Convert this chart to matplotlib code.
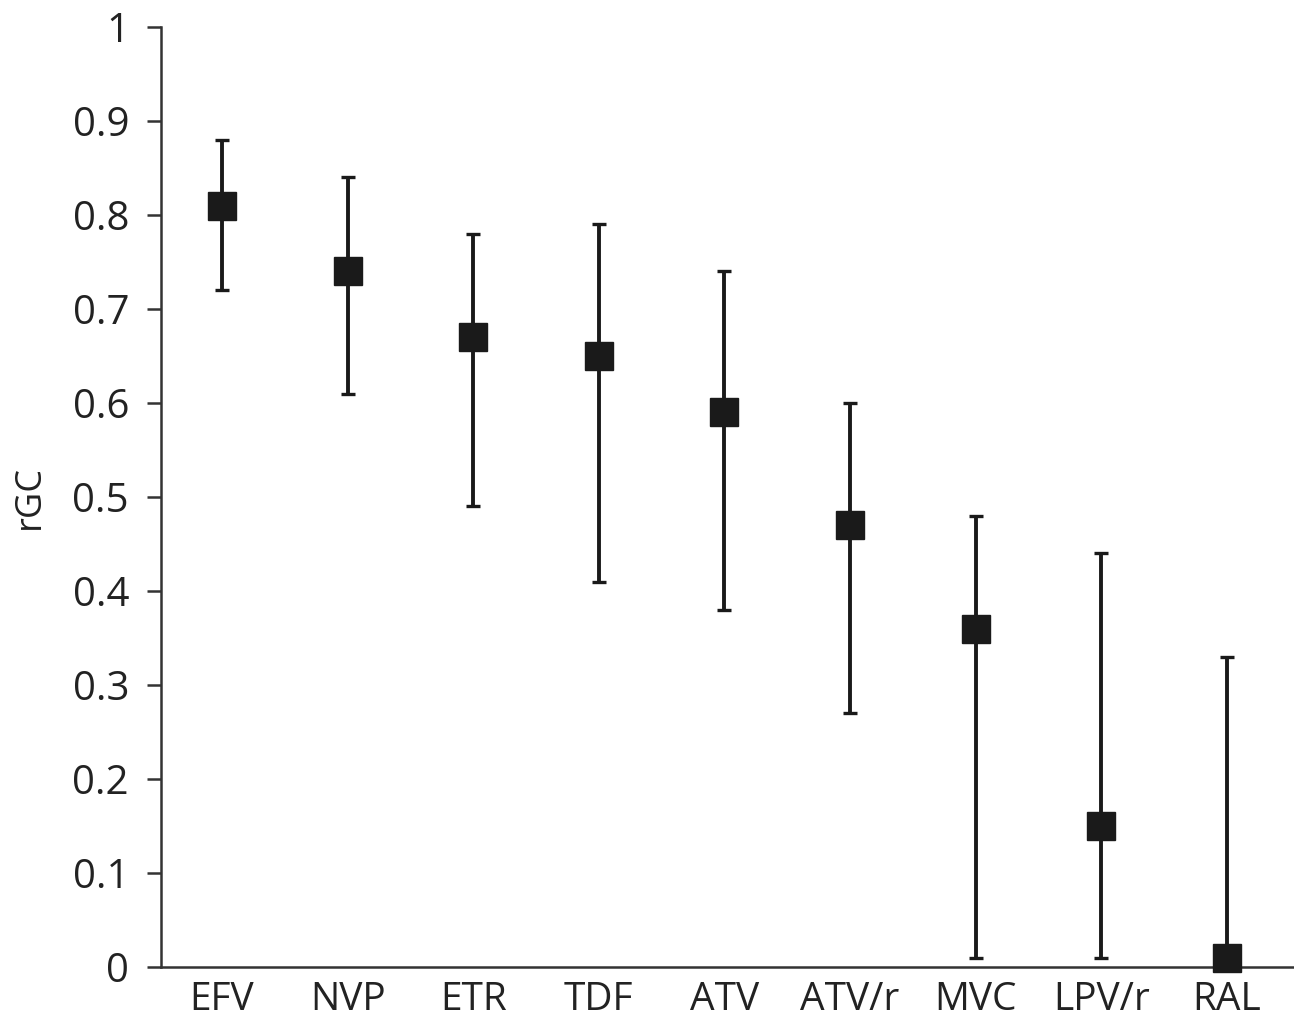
import matplotlib
matplotlib.use('Agg')
import matplotlib.pyplot as plt

# farmacos y valores de rGC
farmacos = ['EFV', 'NVP', 'ETR', 'TDF', 'ATV', 'ATV/r', 'MVC', 'LPV/r', 'RAL']
rgc = [0.81, 0.74, 0.67, 0.65, 0.59, 0.47, 0.36, 0.15, 0.01]
ic_inf = [0.72, 0.61, 0.49, 0.41, 0.38, 0.27, 0.01, 0.01, 0.0]
ic_sup = [0.88, 0.84, 0.78, 0.79, 0.74, 0.60, 0.48, 0.44, 0.33]

plt.rcParams['font.family'] = ['Open Sans', 'DejaVu Sans']

x = list(range(len(farmacos)))
err_low = [v - lo for v, lo in zip(rgc, ic_inf)]
err_high = [hi - v for v, hi in zip(rgc, ic_sup)]

fig = plt.figure(figsize=(12.94, 10.28), dpi=100)
ax = fig.add_axes([0.1244, 0.0593, 0.8756, 0.9144])

ax.errorbar(x, rgc, yerr=[err_low, err_high], fmt='s', color='#1a1a1a',
            ecolor='#1a1a1a', elinewidth=2.8, capsize=4.8, capthick=2.4,
            markersize=20, zorder=3, clip_on=False)

ax.set_xlim(-0.486, 8.535)
ax.set_ylim(0, 1)
ax.set_yticks([0, 0.1, 0.2, 0.3, 0.4, 0.5, 0.6, 0.7, 0.8, 0.9, 1])
ax.set_yticklabels(['0', '0.1', '0.2', '0.3', '0.4', '0.5', '0.6', '0.7', '0.8', '0.9', '1'])
ax.set_xticks(x)
ax.set_xticklabels(farmacos)

ax.spines['top'].set_visible(False)
ax.spines['right'].set_visible(False)
for s in ['left', 'bottom']:
    ax.spines[s].set_color('#333333')
    ax.spines[s].set_linewidth(1.8)

ax.tick_params(axis='y', length=10, width=1.8, color='#333333', pad=13,
               labelsize=29, labelcolor='#222222')
ax.tick_params(axis='x', length=0, pad=10, labelsize=28, labelcolor='#222222')

ax.set_ylabel('rGC', fontsize=26, color='#222222', labelpad=18)

fig.savefig('out.png', dpi=100)
